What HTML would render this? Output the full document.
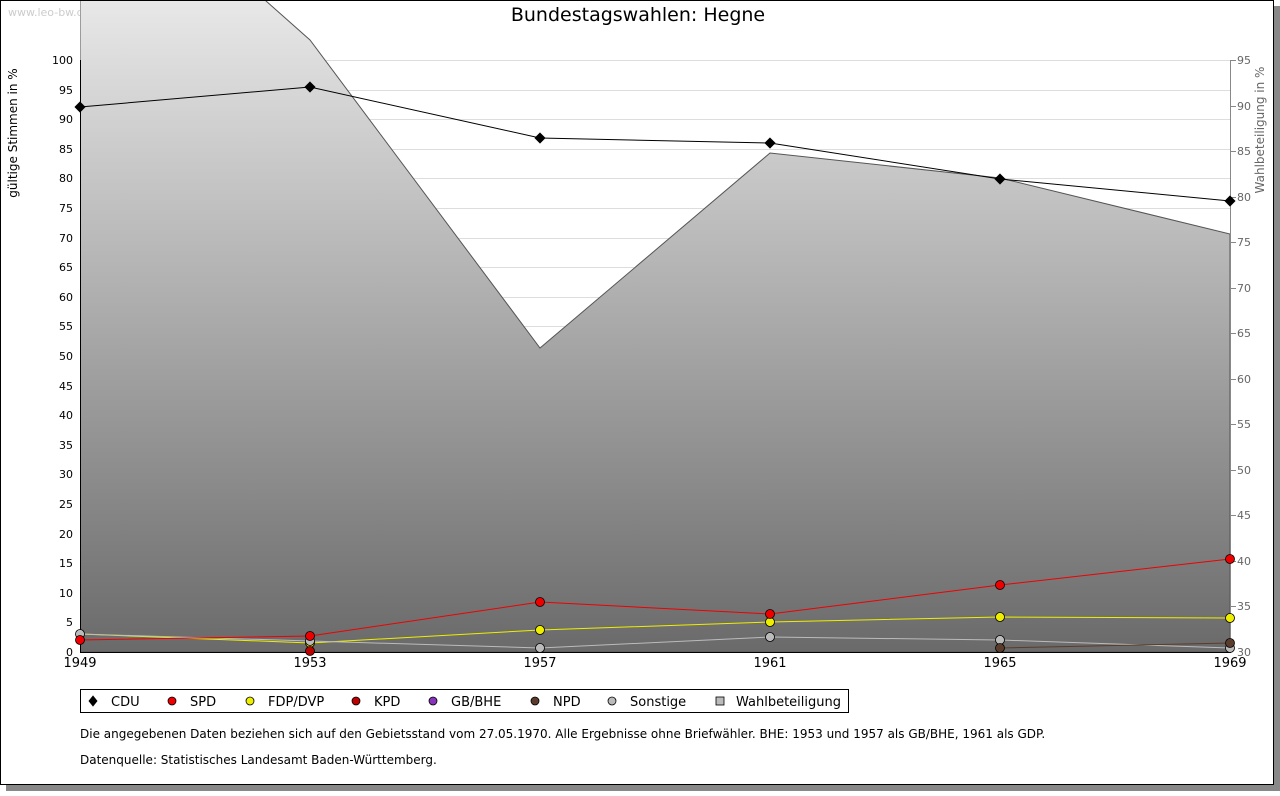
<!DOCTYPE html><html><head><style>body{margin:0;background:#fff}text{font-family:"DejaVu Sans","Liberation Sans",sans-serif}</style></head><body>
<svg width="1280" height="791" xmlns="http://www.w3.org/2000/svg">
<defs><linearGradient id="g" x1="0" y1="0" x2="0" y2="652" gradientUnits="userSpaceOnUse"><stop offset="0" stop-color="#e8e8e8"/><stop offset="1" stop-color="#6a6a6a"/></linearGradient>
<clipPath id="c"><rect x="80" y="1" width="1151" height="652"/></clipPath></defs>
<rect x="6" y="6" width="1274" height="785" fill="#888"/>
<rect x="0.5" y="0.5" width="1273" height="784" fill="#fff" stroke="#000"/>
<text x="8" y="16" font-size="11" fill="#ccc">www.leo-bw.de</text>
<text x="638" y="21" font-size="19" text-anchor="middle">Bundestagswahlen: Hegne</text>
<g stroke="#ddd"><path d="M80 60.5H1231M80 90.5H1231M80 119.5H1231M80 149.5H1231M80 178.5H1231M80 208.5H1231M80 238.5H1231M80 267.5H1231M80 297.5H1231M80 326.5H1231M80 356.5H1231M80 386.5H1231M80 415.5H1231M80 445.5H1231M80 474.5H1231M80 504.5H1231M80 534.5H1231M80 563.5H1231M80 593.5H1231M80 622.5H1231"/></g>
<g clip-path="url(#c)"><path d="M80 -164L310 40L540 348L770 153L1000 178L1230 234L1230 652L80 652Z" fill="url(#g)" stroke="#555"/></g>
<path d="M80.5 60V652.5H1231" stroke="#000" fill="none"/>
<path d="M1230.5 60V652" stroke="#888" fill="none"/>
<g stroke="#888"><path d="M1230 60.5h6M1230 106.5h6M1230 151.5h6M1230 197.5h6M1230 242.5h6M1230 288.5h6M1230 333.5h6M1230 379.5h6M1230 424.5h6M1230 470.5h6M1230 515.5h6M1230 561.5h6M1230 606.5h6"/></g>
<g font-size="11" text-anchor="end">
<text x="73" y="64">100</text><text x="73" y="94">95</text><text x="73" y="123">90</text><text x="73" y="153">85</text><text x="73" y="182">80</text><text x="73" y="212">75</text><text x="73" y="242">70</text><text x="73" y="271">65</text><text x="73" y="301">60</text><text x="73" y="330">55</text><text x="73" y="360">50</text><text x="73" y="390">45</text><text x="73" y="419">40</text><text x="73" y="449">35</text><text x="73" y="478">30</text><text x="73" y="508">25</text><text x="73" y="538">20</text><text x="73" y="567">15</text><text x="73" y="597">10</text><text x="73" y="626">5</text><text x="73" y="656">0</text></g>
<g font-size="11" fill="#666">
<text x="1237" y="64">95</text><text x="1237" y="110">90</text><text x="1237" y="155">85</text><text x="1237" y="201">80</text><text x="1237" y="246">75</text><text x="1237" y="292">70</text><text x="1237" y="337">65</text><text x="1237" y="383">60</text><text x="1237" y="428">55</text><text x="1237" y="474">50</text><text x="1237" y="519">45</text><text x="1237" y="565">40</text><text x="1237" y="610">35</text><text x="1237" y="656">30</text></g>
<text transform="translate(17 133) rotate(-90)" font-size="12" text-anchor="middle">gültige Stimmen in %</text>
<text transform="translate(1264 130) rotate(-90)" font-size="12" text-anchor="middle" fill="#666">Wahlbeteiligung in %</text>
<g font-size="13" text-anchor="middle"><text x="80" y="667">1949</text><text x="310" y="667">1953</text><text x="540" y="667">1957</text><text x="770" y="667">1961</text><text x="1000" y="667">1965</text><text x="1230" y="667">1969</text></g>
<g fill="none">
<polyline points="80,107 310,87 540,138 770,143 1000,179 1230,201" stroke="#000"/>
<polyline points="80,634 310,643 540,630 770,622 1000,617 1230,618" stroke="#ee0"/>
<polyline points="80,634 310,641 540,648 770,637 1000,640 1230,648" stroke="#bbb"/>
<polyline points="1000,648 1230,643" stroke="#5a3c2c"/>
<polyline points="80,640 310,636 540,602 770,614 1000,585 1230,559" stroke="#e00"/>
</g>
<g stroke="#000" stroke-width="0.8">
<g fill="#000"><path d="M80 102l5 5-5 5-5-5z"/><path d="M310 82l5 5-5 5-5-5z"/><path d="M540 133l5 5-5 5-5-5z"/><path d="M770 138l5 5-5 5-5-5z"/><path d="M1000 174l5 5-5 5-5-5z"/><path d="M1230 196l5 5-5 5-5-5z"/></g>
<g fill="#ee0"><circle cx="310" cy="643" r="4.5"/><circle cx="540" cy="630" r="4.5"/><circle cx="770" cy="622" r="4.5"/><circle cx="1000" cy="617" r="4.5"/><circle cx="1230" cy="618" r="4.5"/></g>
<g fill="#bbb"><circle cx="80" cy="634" r="4.5"/><circle cx="310" cy="641" r="4.5"/><circle cx="540" cy="648" r="4.5"/><circle cx="770" cy="637" r="4.5"/><circle cx="1000" cy="640" r="4.5"/><circle cx="1230" cy="648" r="4.5"/></g>
<g fill="#5a3c2c"><circle cx="1000" cy="648" r="4.5"/><circle cx="1230" cy="643" r="4.5"/></g>
<g fill="#b00"><circle cx="310" cy="651" r="4.5"/></g>
<g fill="#e00"><circle cx="80" cy="640" r="4.5"/><circle cx="310" cy="636" r="4.5"/><circle cx="540" cy="602" r="4.5"/><circle cx="770" cy="614" r="4.5"/><circle cx="1000" cy="585" r="4.5"/><circle cx="1230" cy="559" r="4.5"/></g>
</g>
<rect x="80.5" y="689.5" width="768" height="23" fill="#fff" stroke="#000"/>
<g stroke="#000" stroke-width="0.8">
<path d="M93 696l4 5-4 5-4-5z" fill="#000"/>
<circle cx="172" cy="701" r="4" fill="#e00"/><circle cx="250" cy="701" r="4" fill="#ee0"/><circle cx="356" cy="701" r="4" fill="#b00"/><circle cx="433" cy="701" r="4" fill="#8833bb"/><circle cx="535" cy="701" r="4" fill="#5a3c2c"/><circle cx="612" cy="701" r="4" fill="#bbb"/><rect x="716" y="697" width="8" height="8" fill="#bbb"/></g>
<g font-size="13"><text x="111" y="706">CDU</text><text x="190" y="706">SPD</text><text x="268" y="706">FDP/DVP</text><text x="374" y="706">KPD</text><text x="451" y="706">GB/BHE</text><text x="553" y="706">NPD</text><text x="630" y="706">Sonstige</text><text x="736" y="706">Wahlbeteiligung</text></g>
<text x="80" y="738" font-size="12">Die angegebenen Daten beziehen sich auf den Gebietsstand vom 27.05.1970. Alle Ergebnisse ohne Briefwähler. BHE: 1953 und 1957 als GB/BHE, 1961 als GDP.</text>
<text x="80" y="764" font-size="12">Datenquelle: Statistisches Landesamt Baden-Württemberg.</text>
</svg></body></html>
